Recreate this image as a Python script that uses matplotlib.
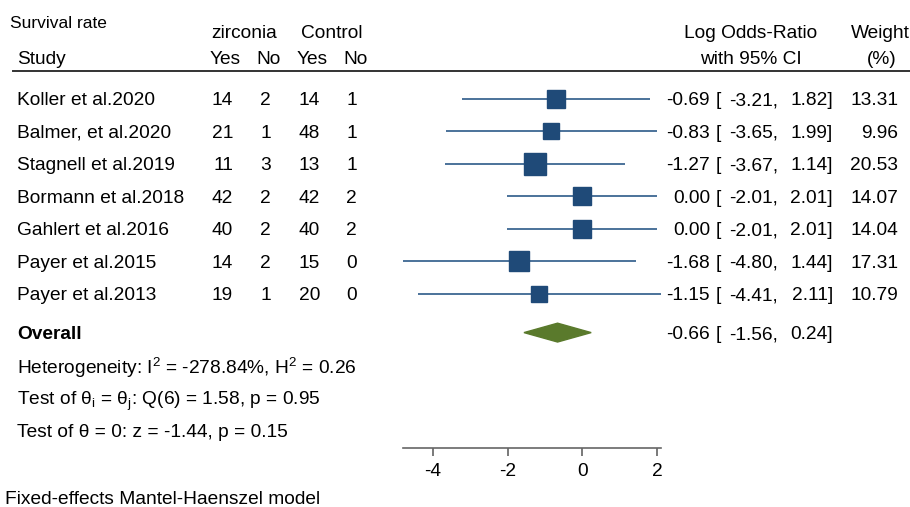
import numpy as np
import matplotlib
matplotlib.use("Agg")
import matplotlib.pyplot as plt
from matplotlib.transforms import blended_transform_factory
from matplotlib.patches import Polygon

plt.rcParams['font.family'] = ['Liberation Sans', 'DejaVu Sans']
plt.rcParams['mathtext.fontset'] = 'custom'
plt.rcParams['mathtext.rm'] = 'Liberation Sans'
plt.rcParams['mathtext.it'] = 'Liberation Sans'
plt.rcParams['mathtext.default'] = 'regular'

# study-level data
studies = ['Koller et al.2020', 'Balmer, et al.2020', 'Stagnell et al.2019',
           'Bormann et al.2018', 'Gahlert et al.2016', 'Payer et al.2015',
           'Payer et al.2013']
zir_yes = [14, 21, 11, 42, 40, 14, 19]
zir_no = [2, 1, 3, 2, 2, 2, 1]
ctl_yes = [14, 48, 13, 42, 40, 15, 20]
ctl_no = [1, 1, 1, 2, 2, 0, 0]
log_or = [-0.69, -0.83, -1.27, 0.00, 0.00, -1.68, -1.15]
ci_lo = [-3.21, -3.65, -3.67, -2.01, -2.01, -4.80, -4.41]
ci_hi = [1.82, 1.99, 1.14, 2.01, 2.01, 1.44, 2.11]
weights = [13.31, 9.96, 20.53, 14.07, 14.04, 17.31, 10.79]

# pooled estimate
overall_est = -0.66
overall_lo = -1.56
overall_hi = 0.24

stats_lines = [
    r'Heterogeneity: I$^2$ = -278.84%, H$^2$ = 0.26',
    r'Test of θ$_i$ = θ$_j$: Q(6) = 1.58, p = 0.95',
    'Test of θ = 0: z = -1.44, p = 0.15',
]
xticks = [-4, -2, 0, 2]

W, H = 910, 507
FS = 13.8
SQUARE = '#1f4a78'
LINE = '#3d6792'
DIAMOND = '#5a7a2c'

fig = plt.figure(figsize=(W / 100, H / 100), dpi=100)


def px(x):
    return x / W


def py(y):
    return 1 - y / H


# forest panel
ax = fig.add_axes([px(403), py(448), px(661) - px(403), py(80) - py(448)])
ax.set_xlim(min(ci_lo), max(ci_hi))
ax.set_ylim(10.75, -0.57)
for s in ['top', 'left', 'right']:
    ax.spines[s].set_visible(False)
ax.spines['bottom'].set_color('#666666')
ax.spines['bottom'].set_linewidth(1.2)
ax.set_yticks([])
ax.set_xticks(xticks)
ax.set_xticklabels([str(t) for t in xticks])
ax.tick_params(axis='x', length=5.5, width=1.1, color='#555555', labelsize=FS, pad=5)
ax.patch.set_alpha(0)

rows = np.arange(len(studies))
overall_y = 7.2

for i, y in enumerate(rows):
    ax.plot([ci_lo[i], ci_hi[i]], [y, y], color=LINE, lw=1.3, solid_capstyle='butt', zorder=2)
    ax.plot(log_or[i], y, marker='s', ms=3.45 * np.sqrt(weights[i]),
            color=SQUARE, mec=SQUARE, zorder=3)

h = 0.29
ax.add_patch(Polygon([[overall_lo, overall_y], [overall_est, overall_y - h],
                      [overall_hi, overall_y], [overall_est, overall_y + h]],
                     closed=True, facecolor=DIAMOND, edgecolor=DIAMOND, zorder=3))

# text columns share the panel's row scale
tr = blended_transform_factory(fig.transFigure, ax.transData)


def row_text(x, y, s, ha='left', **kw):
    fig.text(px(x), y, s, transform=tr, ha=ha, va='center_baseline', fontsize=FS, **kw)


def ci_text(y, est, lo, hi):
    row_text(710, y, f'{est:.2f}', ha='right')
    row_text(716, y, '[')
    row_text(778, y, f'{lo:.2f},', ha='right')
    row_text(833, y, f'{hi:.2f}]', ha='right')


for i, y in enumerate(rows):
    row_text(17, y, studies[i])
    row_text(233, y, str(zir_yes[i]), ha='right')
    row_text(271, y, str(zir_no[i]), ha='right')
    row_text(320, y, str(ctl_yes[i]), ha='right')
    row_text(357, y, str(ctl_no[i]), ha='right')
    ci_text(y, log_or[i], ci_lo[i], ci_hi[i])
    row_text(898, y, f'{weights[i]:.2f}', ha='right')

row_text(17, overall_y, 'Overall', fontweight='bold')
ci_text(overall_y, overall_est, overall_lo, overall_hi)

for k, line in enumerate(stats_lines):
    row_text(17, overall_y + 1 + k, line)

# header block
def head(x, y, s, ha='center', size=FS):
    fig.text(px(x), py(y), s, ha=ha, va='center_baseline', fontsize=size)


head(10, 22, 'Survival rate', ha='left', size=12.5)
head(244, 31, 'zirconia')
head(332, 31, 'Control')
head(17, 57, 'Study', ha='left')
head(225, 57, 'Yes')
head(269, 57, 'No')
head(312, 57, 'Yes')
head(356, 57, 'No')
head(751, 31, 'Log Odds-Ratio')
head(751, 57, 'with 95% CI')
head(880, 31, 'Weight')
head(882, 57, '(%)')
fig.add_artist(plt.Line2D([px(13), 1.0], [py(71), py(71)], color='#333333', lw=1.4))

head(5, 497, 'Fixed-effects Mantel-Haenszel model', ha='left', size=FS)

fig.savefig('out.png', dpi=100, facecolor='white')
